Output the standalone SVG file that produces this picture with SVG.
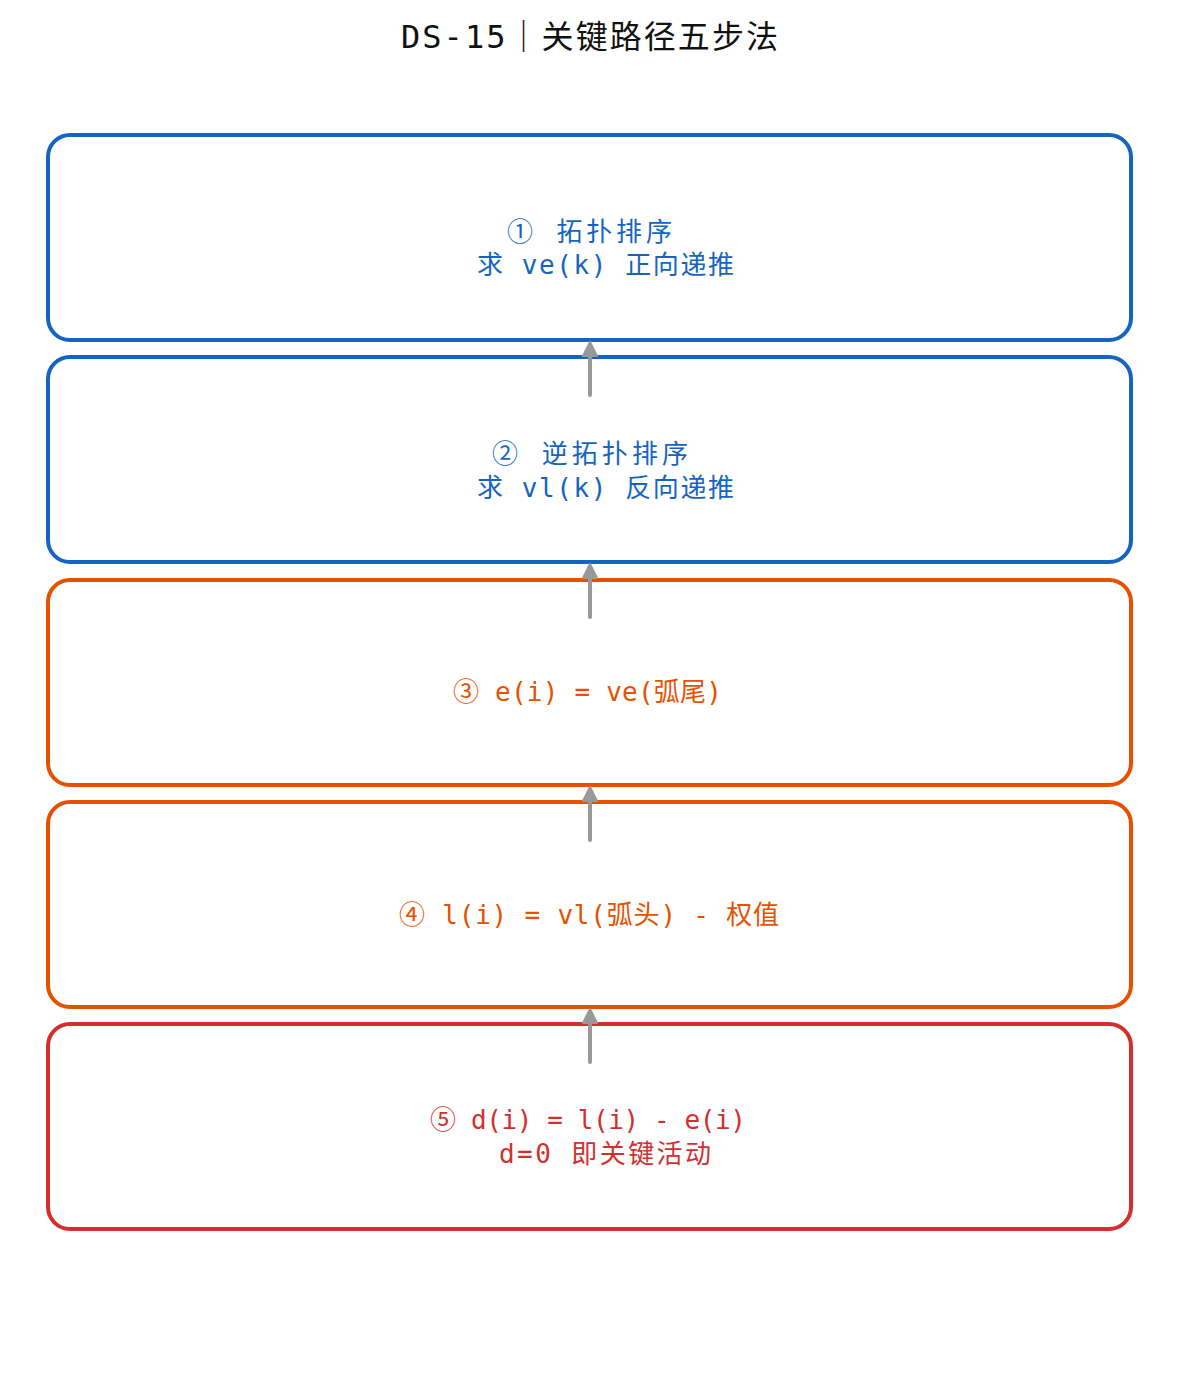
<svg xmlns="http://www.w3.org/2000/svg" width="1180" height="1378" viewBox="0 0 1180 1378">
<defs>
<style>
.box{fill:#fff;stroke-width:4}
.blue{stroke:#1565C0}
.orange{stroke:#E65100}
.red{stroke:#D32F2F}
.t{font-family:"DejaVu Sans Mono","Noto Sans CJK SC",monospace;font-size:26px;text-anchor:middle}
.tb{fill:#1565C0}
.to{fill:#E65100}
.tr{fill:#D32F2F}
.title{font-family:"DejaVu Sans Mono","Noto Sans CJK SC",monospace;font-size:32px;text-anchor:middle;fill:#111}
.conn line{stroke:#999;stroke-width:4;stroke-linecap:round}
.conn path{fill:#999;stroke:#999;stroke-width:2;stroke-linejoin:round}
</style>
</defs>
<rect width="1180" height="1378" fill="#fff"/>
<text class="title" x="589.5" y="48" textLength="377" lengthAdjust="spacing">DS-15｜关键路径五步法</text>
<g id="n1">
<rect class="box blue" x="48" y="135" width="1083" height="205" rx="22"/>
<text class="t tb" x="589.5" y="241" textLength="165" lengthAdjust="spacing">① 拓扑排序</text>
<text class="t tb" x="605.5" y="274" textLength="257" lengthAdjust="spacing">求 ve(k) 正向递推</text>
</g>
<g id="n2">
<rect class="box blue" x="48" y="357" width="1083" height="205" rx="22"/>
<text class="t tb" x="590" y="463" textLength="196" lengthAdjust="spacing">② 逆拓扑排序</text>
<text class="t tb" x="605.5" y="497" textLength="257" lengthAdjust="spacing">求 vl(k) 反向递推</text>
</g>
<g id="n3">
<rect class="box orange" x="48" y="580" width="1083" height="205" rx="22"/>
<text class="t to" x="587.5" y="701" textLength="269" lengthAdjust="spacing">③ e(i) = ve(弧尾)</text>
</g>
<g id="n4">
<rect class="box orange" x="48" y="802" width="1083" height="205" rx="22"/>
<text class="t to" x="589" y="924" textLength="380" lengthAdjust="spacing">④ l(i) = vl(弧头) - 权值</text>
</g>
<g id="n5">
<rect class="box red" x="48" y="1024" width="1083" height="205" rx="22"/>
<text class="t tr" x="588" y="1129" textLength="316" lengthAdjust="spacing">⑤ d(i) = l(i) - e(i)</text>
<text class="t tr" x="605" y="1163" textLength="212" lengthAdjust="spacing">d=0 即关键活动</text>
</g>
<g id="connectors" class="conn">
<line x1="590" y1="395" x2="590" y2="352"/>
<path d="M583 356 L590 342 L597 356 Z"/>
<line x1="590" y1="617" x2="590" y2="574"/>
<path d="M583 578 L590 564 L597 578 Z"/>
<line x1="590" y1="840" x2="590" y2="797"/>
<path d="M583 801 L590 787 L597 801 Z"/>
<line x1="590" y1="1062" x2="590" y2="1019"/>
<path d="M583 1023 L590 1009 L597 1023 Z"/>
</g>
</svg>
